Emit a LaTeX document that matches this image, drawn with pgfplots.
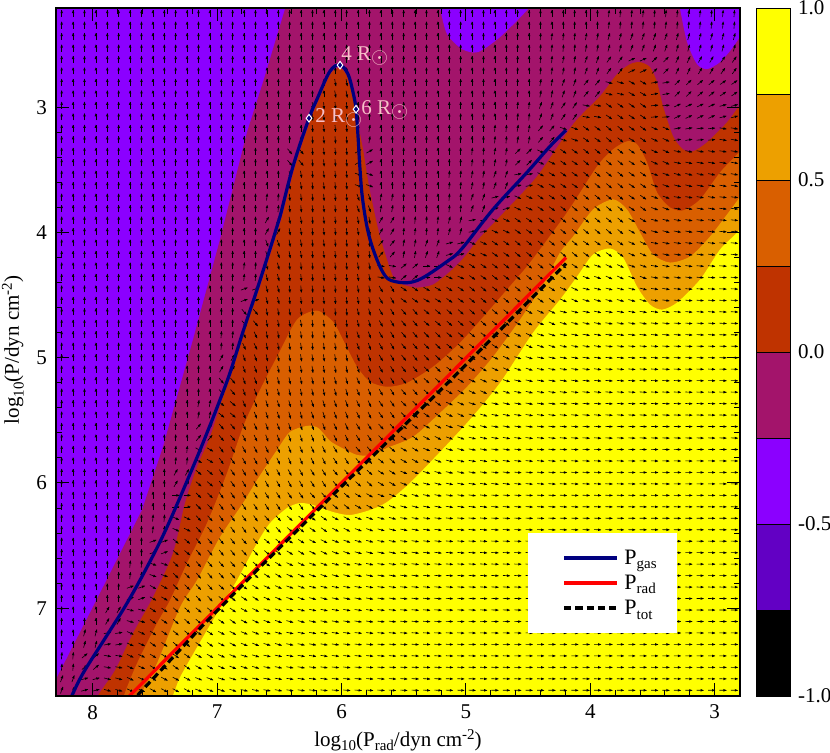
\documentclass[border=0pt]{standalone}
\usepackage{fontspec}
\setmainfont{Liberation Serif}
\usepackage{pgfplots}
\usepackage{pgfplotstable}
\pgfplotsset{compat=1.18}
\definecolor{cY}{HTML}{FFFF00}
\definecolor{cO}{HTML}{EDA000}
\definecolor{cD}{HTML}{D95F00}
\definecolor{cR}{HTML}{BF3300}
\definecolor{cM}{HTML}{A3146B}
\definecolor{cP}{HTML}{8B00FF}
\definecolor{cV}{HTML}{6200C4}
\definecolor{cB}{HTML}{00007F}
\definecolor{cT}{HTML}{F7BFC8}
% on-screen direction (degrees) of the small arrows; rows top to bottom, columns left to right
\pgfplotstableread[header=false]{
90 90 90 90 90 90 90 90 90 90 90 90 90 90 90 90 90 90 90 90 90 90 90 90 85 85 85 85 85 85
90 90 90 90 90 90 90 90 90 90 90 90 90 90 90 90 90 90 90 90 90 85 85 80 75 70 70 75 75 75
90 90 90 90 90 90 90 90 90 90 90 90 90 90 90 90 90 90 90 90 90 85 80 70 55 25 45 65 60 55
90 90 90 90 90 90 90 90 90 90 90 90 -80 90 90 90 90 90 90 90 90 80 70 50 -15 -30 10 45 40 35
90 90 90 90 90 90 90 90 90 90 90 -85 -85 90 90 90 90 90 90 90 85 70 55 -10 -35 -35 5 25 25 15
90 90 90 90 90 90 90 90 90 90 90 -85 -85 80 90 90 90 90 90 85 80 50 -20 -35 -40 -35 -25 10 5 -10
90 90 90 90 90 90 90 90 90 90 -50 -85 -85 30 90 90 90 90 85 80 45 -25 -35 -40 -40 -35 -25 -12 -10 -10
90 90 90 90 90 90 90 90 90 90 -80 -85 -85 -20 90 90 90 85 80 70 10 -30 -35 -40 -40 -35 -20 -15 -12 -10
90 90 90 90 90 90 90 90 90 85 -85 -85 -85 -70 80 90 90 85 70 15 -25 -35 -40 -40 -40 -35 -20 -10 -10 -7
90 90 90 90 90 90 90 90 90 60 -80 -85 -85 -80 60 85 85 75 10 -25 -35 -40 -40 -40 -40 -30 -15 -10 -7 -5
90 90 90 90 90 90 90 90 90 -70 -80 -85 -85 -85 50 80 70 15 -25 -35 -40 -40 -40 -35 -35 -25 -12 -8 -7 -5
90 90 90 90 90 90 90 90 85 -75 -85 -85 -85 -80 -10 40 0 -25 -35 -38 -40 -40 -35 -20 -25 -20 -10 -8 -5 -4
90 90 90 90 90 90 90 90 20 -75 -85 -85 -85 -80 -60 -35 -30 -35 -40 -40 -40 -35 -25 -15 -15 -15 -8 -5 -4 -3
90 90 90 90 90 90 90 90 -50 -80 -80 -85 -85 -75 -60 -50 -40 -42 -42 -40 -30 -25 -15 -12 -10 -10 -7 -5 -4 -3
90 90 90 90 90 90 90 85 -65 -80 -82 -85 -82 -70 -60 -50 -45 -40 -38 -32 -25 -18 -12 -10 -8 -6 -5 -4 -3 -2
90 90 90 90 90 90 90 60 -70 -78 -80 -82 -80 -70 -60 -52 -45 -38 -32 -25 -18 -12 -10 -8 -6 -5 -4 -3 -3 -2
90 90 90 90 90 90 90 -50 -70 -75 -78 -78 -75 -68 -60 -50 -42 -32 -25 -18 -13 -10 -8 -6 -5 -4 -3 -3 -2 -2
90 90 90 90 90 90 80 -40 -68 -72 -75 -72 -70 -65 -55 -45 -35 -25 -18 -13 -10 -8 -6 -5 -4 -3 -3 -2 -2 -2
90 90 90 90 90 90 50 -50 -65 -70 -72 -70 -65 -58 -48 -36 -28 -20 -14 -10 -8 -6 -5 -4 -3 -3 -2 -2 -2 -2
90 90 90 90 90 85 -30 -55 -62 -65 -68 -65 -58 -50 -40 -30 -22 -15 -10 -8 -6 -5 -4 -3 -3 -2 -2 -2 -1 -1
90 90 90 90 90 60 -40 -55 -60 -62 -62 -58 -50 -42 -32 -22 -16 -12 -9 -7 -5 -4 -3 -3 -2 -2 -2 -1 -1 -1
90 90 90 90 90 0 -45 -55 -58 -58 -55 -48 -40 -30 -22 -16 -12 -9 -7 -5 -4 -3 -3 -2 -2 -2 -1 -1 -1 -1
90 90 90 90 85 -25 -48 -55 -55 -48 -42 -35 -28 -20 -15 -11 -8 -6 -5 -4 -3 -3 -2 -2 -2 -1 -1 -1 -1 -1
90 90 90 90 20 -40 -50 -52 -48 -40 -32 -27 -20 -15 -12 -9 -7 -5 -4 -3 -3 -2 -2 -2 -1 -1 -1 -1 -1 -1
90 90 90 85 -20 -45 -50 -48 -40 -32 -25 -20 -15 -12 -9 -7 -5 -4 -4 -3 -2 -2 -2 -1 -1 -1 -1 -1 -1 -1
90 90 90 20 -30 -45 -48 -42 -33 -25 -20 -15 -12 -10 -8 -6 -5 -4 -3 -3 -2 -2 -2 -1 -1 -1 -1 -1 -1 -1
90 90 60 -15 -35 -42 -40 -35 -27 -20 -15 -12 -10 -8 -6 -5 -4 -3 -3 -2 -2 -2 -1 -1 -1 -1 -1 -1 -1 -1
90 75 10 -25 -35 -40 -35 -28 -22 -16 -12 -10 -8 -6 -5 -4 -3 -3 -2 -2 -2 -1 -1 -1 -1 -1 -1 -1 -1 -1
85 40 -10 -25 -32 -35 -30 -23 -17 -12 -10 -8 -6 -5 -4 -3 -3 -2 -2 -2 -1 -1 -1 -1 -1 -1 -1 -1 -1 -1
70 15 -15 -25 -28 -28 -22 -18 -13 -10 -8 -7 -5 -4 -4 -3 -3 -2 -2 -1 -1 -1 -1 -1 -1 -1 -1 -1 -1 -1
}\angles
\pgfdeclareplotmark{qa}{%
  \pgfpathmoveto{\pgfpoint{-1.7pt}{0pt}}\pgfpathlineto{\pgfpoint{1.7pt}{0pt}}\pgfusepathqstroke
  \pgfpathmoveto{\pgfpoint{1.9pt}{0pt}}\pgfpathlineto{\pgfpoint{0.3pt}{0.65pt}}\pgfpathlineto{\pgfpoint{0.3pt}{-0.65pt}}\pgfpathclose\pgfusepathqfill}
\newcommand{\qv}[3]{\addplot[forget plot, scatter, only marks, mark=qa, mark options={draw=black, fill=black, line width=0.3pt},
  point meta=explicit symbolic,
  scatter/@pre marker code/.code={\pgfscope\pgftransformrotate{\pgfplotspointmeta}},
  scatter/@post marker code/.code={\endpgfscope}]
  table[x expr={8.295-(2*#1+#2+0.5)*0.09163},
        y expr={2.208+(2*\coordindex+#3+0.5)*0.09155}, meta index=#1]{\angles};}
\newcommand{\lsub}[1]{\raisebox{-2.4pt}{\fontsize{7.5}{8}\selectfont #1}}
\newcommand{\rsun}{R\raisebox{-1.5pt}{$\odot$}}
\pgfplotsset{px/.style={x filter/.expression={1.00482*x-0.0330}},
  band/.style={forget plot, smooth, tension=0.45, draw=none, px}}
\begin{document}
\begin{tikzpicture}
\path[use as bounding box] (0,0) rectangle (415pt,376pt);
\begin{axis}[at={(28pt,28pt)}, anchor=south west, scale only axis, width=342pt, height=344pt,
  x dir=reverse, y dir=reverse, xmin=2.797, xmax=8.295, ymin=2.208, ymax=7.701,
  xtick={3,...,8}, ytick={3,...,7}, minor tick num=4, tick align=inside,
  major tick length=6.5pt, minor tick length=3.2pt, clip mode=individual,
  axis line style={line width=1pt}, every tick/.style={black, line width=0.5pt},
  axis on top, font=\fontsize{10.5}{12}\selectfont,
  /pgf/number format/assume math mode=true,
  xticklabel style={yshift=-1pt}, yticklabel style={xshift=-1pt},
  xlabel={log\lsub{10}(P\lsub{rad}/dyn cm\raisebox{3.5pt}{\fontsize{7.5}{8}\selectfont -2})},
  ylabel={log\lsub{10}(P/dyn cm\raisebox{3.5pt}{\fontsize{7.5}{8}\selectfont -2})},
  x label style={at={(axis description cs:0.5,-0.064)}, anchor=center},
  y label style={at={(axis description cs:-0.063,0.503)}, anchor=center},
]
\addplot[forget plot, draw=none, fill=cP] coordinates {(2.4,2) (8.5,2) (8.5,8) (2.4,8)};
\addplot[forget plot, draw=none, fill=cM, px] coordinates {(8.416,7.816) (8.280,7.552) (7.936,6.880) (7.600,6.216) (7.432,5.712) (7.192,4.856) (6.976,4.056) (6.760,3.200) (6.632,2.800) (6.456,2.216) (6.400,2.040) (2.496,2.040) (2.496,7.976) (8.416,7.976)};
\addplot[band, fill=cP] coordinates {(5.256,2.056) (5.216,2.216) (5.160,2.416) (5.040,2.536) (4.912,2.560) (4.736,2.440) (4.512,2.216) (4.416,2.056)};
\addplot[band, fill=cP] coordinates {(3.328,2.056) (3.296,2.216) (3.240,2.480) (3.160,2.656) (3.080,2.696) (2.976,2.640) (2.872,2.520) (2.776,2.376) (2.656,2.216) (2.656,2.056)};
\addplot[band, fill=cR] coordinates {(8.056,7.896) (7.952,7.696) (7.816,7.496) (7.672,7.200) (7.512,6.912) (7.352,6.560) (7.256,6.160) (7.160,5.872) (7.056,5.632) (6.960,5.336) (6.880,5.120) (6.776,4.776) (6.664,4.456) (6.536,4.056) (6.480,3.872) (6.376,3.472) (6.248,3.088) (6.184,2.936) (6.088,2.728) (6.016,2.688) (5.960,2.752) (5.912,2.936) (5.872,3.136) (5.832,3.336) (5.800,3.536) (5.768,3.712) (5.696,4.032) (5.592,4.352) (5.512,4.416) (5.400,4.440) (5.272,4.416) (5.136,4.312) (5.032,4.208) (4.896,4.040) (4.736,3.872) (4.440,3.552) (4.152,3.136) (3.936,2.912) (3.800,2.736) (3.696,2.656) (3.616,2.640) (3.536,2.680) (3.480,2.800) (3.432,2.992) (3.352,3.232) (3.272,3.336) (3.192,3.352) (3.080,3.280) (2.920,3.120) (2.824,2.992) (2.616,2.736) (2.416,2.736) (2.416,7.976) (8.056,7.976)};
\addplot[band, fill=cD] coordinates {(7.792,7.896) (7.744,7.696) (7.640,7.440) (7.480,7.120) (7.376,6.936) (7.240,6.640) (7.080,6.320) (6.920,5.920) (6.792,5.552) (6.656,5.256) (6.520,4.992) (6.360,4.696) (6.200,4.624) (6.072,4.712) (5.992,4.856) (5.880,5.072) (5.776,5.192) (5.640,5.232) (5.480,5.200) (5.272,5.072) (5.056,4.880) (4.840,4.640) (4.632,4.400) (4.496,4.240) (4.200,3.840) (3.960,3.472) (3.832,3.336) (3.720,3.272) (3.640,3.296) (3.560,3.440) (3.480,3.680) (3.376,3.800) (3.272,3.824) (3.136,3.736) (2.976,3.520) (2.824,3.360) (2.616,3.136) (2.416,3.136) (2.416,7.976) (7.792,7.976)};
\addplot[band, fill=cO] coordinates {(7.656,7.856) (7.592,7.656) (7.480,7.440) (7.296,6.992) (7.160,6.776) (6.976,6.432) (6.792,6.160) (6.680,5.976) (6.520,5.736) (6.416,5.592) (6.280,5.544) (6.192,5.560) (6.096,5.664) (6.016,5.712) (5.880,5.776) (5.760,5.776) (5.640,5.720) (5.432,5.632) (5.216,5.440) (5.000,5.232) (4.792,4.992) (4.576,4.696) (4.392,4.416) (4.256,4.160) (4.152,4.032) (3.992,3.816) (3.832,3.736) (3.720,3.816) (3.616,4.000) (3.512,4.176) (3.376,4.240) (3.216,4.192) (3.056,4.032) (2.872,3.792) (2.616,3.456) (2.416,3.456) (2.416,7.976) (7.656,7.976)};
\addplot[band, fill=cY] coordinates {(7.456,7.936) (7.352,7.696) (7.296,7.552) (7.160,7.312) (7.000,7.040) (6.840,6.776) (6.680,6.480) (6.576,6.320) (6.440,6.200) (6.336,6.160) (6.232,6.176) (6.072,6.232) (5.936,6.256) (5.776,6.216) (5.640,6.152) (5.432,5.976) (5.000,5.520) (4.736,5.200) (4.472,4.800) (4.256,4.536) (4.120,4.352) (3.992,4.176) (3.856,4.128) (3.752,4.200) (3.640,4.432) (3.536,4.576) (3.440,4.616) (3.320,4.560) (3.136,4.376) (2.976,4.136) (2.840,4.000) (2.616,3.736) (2.416,3.736) (2.416,7.976) (7.456,7.976)};
\pgfplotsinvokeforeach{0,...,29}{\qv{#1}{0}{0}\qv{#1}{1}{0}\qv{#1}{0}{1}\qv{#1}{1}{1}}
\addplot[forget plot, cB, line width=1.6pt, smooth, tension=0.6, px] coordinates {(8.216,7.792) (8.168,7.712) (8.072,7.520) (7.880,7.216) (7.720,6.960) (7.560,6.672) (7.400,6.352) (7.192,5.872) (7.080,5.600) (6.976,5.336) (6.896,5.120) (6.792,4.792) (6.680,4.456) (6.552,4.056) (6.496,3.872) (6.392,3.472) (6.264,3.088) (6.200,2.936) (6.096,2.712) (6.016,2.664) (5.952,2.736) (5.912,2.880) (5.888,3.016) (5.872,3.232) (5.856,3.496) (5.832,3.760) (5.776,4.056) (5.672,4.320) (5.576,4.392) (5.400,4.384) (5.160,4.232) (5.040,4.128) (4.792,3.816) (4.520,3.520) (4.336,3.312) (4.208,3.184)};
\addplot[forget plot, red, line width=1.6pt, px] coordinates {(7.712,7.712) (4.208,4.200)};
\addplot[forget plot, black, line width=1.6pt, dash pattern=on 3.6pt off 2pt, px] coordinates {(7.696,7.760) (7.136,7.160) (6.656,6.672) (6.000,6.024) (5.136,5.184) (4.208,4.248)};
\addplot[forget plot, draw=none, fill=white] coordinates {(4.501,6.400) (3.303,6.400) (3.303,7.198) (4.501,7.198)};
\addplot[forget plot, cB, line width=1.6pt] coordinates {(4.210,6.599) (3.785,6.599)};
\addplot[forget plot, red, line width=1.6pt] coordinates {(4.210,6.799) (3.785,6.799)};
\addplot[forget plot, black, line width=1.6pt, dash pattern=on 3.6pt off 2pt] coordinates {(4.210,6.999) (3.785,6.999)};
\node[anchor=base west, inner sep=0pt, font=\fontsize{11}{12}\selectfont] at (axis cs:3.729,6.648) {P\lsub{gas}};
\node[anchor=base west, inner sep=0pt, font=\fontsize{11}{12}\selectfont] at (axis cs:3.729,6.848) {P\lsub{rad}};
\node[anchor=base west, inner sep=0pt, font=\fontsize{11}{12}\selectfont] at (axis cs:3.729,7.048) {P\lsub{tot}};
\addplot[forget plot, only marks, mark=diamond*, mark size=1.9pt, mark options={fill=cB, draw=white, line width=0.5pt}, px] coordinates {(6.264,3.088) (6.016,2.664) (5.888,3.016)};
\node[text=cT, anchor=west, inner sep=0pt, font=\fontsize{10.5}{12}\selectfont] at (axis cs:6.213,3.086) {2 \rsun};
\node[text=cT, anchor=west, inner sep=0pt, font=\fontsize{10.5}{12}\selectfont] at (axis cs:6.004,2.59) {4 \rsun};
\node[text=cT, anchor=west, inner sep=0pt, font=\fontsize{10.5}{12}\selectfont] at (axis cs:5.843,3.02) {6 \rsun};
\end{axis}
\begin{axis}[at={(378pt,28pt)}, anchor=south west, scale only axis, width=17pt, height=344pt,
  xmin=0, xmax=1, ymin=-1, ymax=1, xtick=\empty, ytick={-1,-0.5,0,0.5,1},
  yticklabels={-1.0,-0.5,0.0,0.5,1.0}, ytick pos=right, yticklabel pos=right, major tick length=0pt,
  axis line style={line width=0.5pt, black!75}, font=\fontsize{10.5}{12}\selectfont, yticklabel style={xshift=0.5pt},
  clip=false]
\addplot[forget plot, fill=black, draw=black, line width=0.5pt] coordinates {(0,-1) (1,-1) (1,-0.75) (0,-0.75)} --cycle;
\addplot[forget plot, fill=cV, draw=black, line width=0.5pt] coordinates {(0,-0.75) (1,-0.75) (1,-0.5) (0,-0.5)} --cycle;
\addplot[forget plot, fill=cP, draw=black, line width=0.5pt] coordinates {(0,-0.5) (1,-0.5) (1,-0.25) (0,-0.25)} --cycle;
\addplot[forget plot, fill=cM, draw=black, line width=0.5pt] coordinates {(0,-0.25) (1,-0.25) (1,0) (0,0)} --cycle;
\addplot[forget plot, fill=cR, draw=black, line width=0.5pt] coordinates {(0,0) (1,0) (1,0.25) (0,0.25)} --cycle;
\addplot[forget plot, fill=cD, draw=black, line width=0.5pt] coordinates {(0,0.25) (1,0.25) (1,0.5) (0,0.5)} --cycle;
\addplot[forget plot, fill=cO, draw=black, line width=0.5pt] coordinates {(0,0.5) (1,0.5) (1,0.75) (0,0.75)} --cycle;
\addplot[forget plot, fill=cY, draw=black, line width=0.5pt] coordinates {(0,0.75) (1,0.75) (1,1) (0,1)} --cycle;
\end{axis}
\end{tikzpicture}
\end{document}
